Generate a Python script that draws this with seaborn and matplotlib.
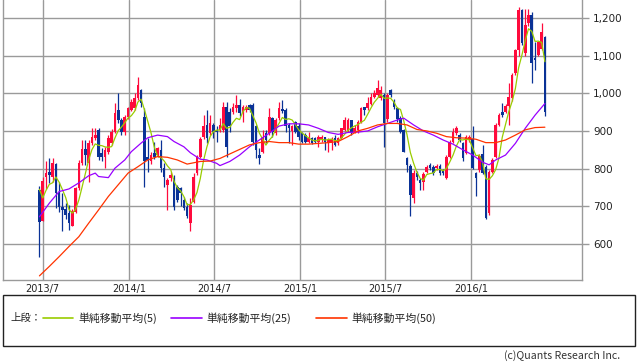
import numpy as np
import pandas as pd
import matplotlib
matplotlib.use('Agg')
from matplotlib import pyplot as plt
from matplotlib.lines import Line2D
from matplotlib.patches import Rectangle
import seaborn as sns

# weekly candles, first week 2013-06-24
start = pd.Timestamp('2013-06-24')
opens = [743, 662, 777, 792, 779, 812, 736, 699, 692, 681, 648, 686, 748, 814, 851, 814, 867, 880, 903, 841,
         832, 845, 867, 898, 956, 929, 898, 938, 956, 960, 987, 1009, 938, 832, 819, 841, 836, 850, 801, 757,
         774, 774, 752, 748, 717, 699, 655, 712, 788, 832, 883, 916, 894, 916, 903, 903, 903, 965, 951, 951,
         960, 969, 947, 956, 969, 969, 912, 836, 845, 894, 894, 934, 894, 934, 958, 956, 916, 901, 925, 912,
         894, 889, 872, 882, 880, 872, 876, 883, 867, 867, 881, 867, 881, 903, 903, 929, 898, 903, 925, 965,
         960, 972, 991, 996, 987, 996, 931, 1009, 980, 960, 934, 903, 827, 808, 721, 789, 770, 765, 792, 810,
         805, 801, 807, 796, 774, 832, 872, 894, 889, 869, 841, 876, 878, 788, 796, 839, 805, 681, 792, 832,
         916, 951, 951, 966, 987, 1053, 1115, 1221, 1106, 1186, 1208, 1093, 1102, 1119, 1149]
highs = [754, 778, 820, 827, 827, 815, 765, 735, 708, 703, 692, 752, 823, 876, 876, 876, 907, 907, 907, 854,
         858, 890, 905, 973, 1000, 935, 942, 965, 985, 1000, 1044, 1012, 962, 881, 845, 870, 858, 876, 814, 775,
         790, 783, 757, 752, 725, 708, 721, 788, 836, 885, 942, 956, 942, 920, 912, 934, 978, 978, 960, 973,
         996, 985, 969, 970, 972, 973, 916, 854, 903, 903, 960, 938, 934, 978, 981, 960, 920, 916, 927, 920,
         898, 894, 898, 885, 883, 889, 888, 885, 881, 883, 889, 885, 907, 938, 934, 929, 916, 929, 965, 965,
         991, 1000, 1009, 1035, 1020, 1000, 1000, 1011, 985, 965, 940, 905, 830, 812, 795, 793, 775, 790, 810, 815,
         810, 812, 812, 800, 836, 876, 909, 913, 895, 872, 889, 889, 913, 790, 840, 863, 810, 795, 828, 920,
         948, 973, 972, 1027, 1055, 1118, 1230, 1225, 1225, 1225, 1215, 1137, 1140, 1186, 1152]
lows = [565, 660, 745, 761, 765, 695, 686, 633, 665, 637, 647, 682, 743, 810, 810, 765, 863, 876, 823, 819,
        801, 840, 862, 894, 920, 890, 890, 932, 952, 955, 982, 965, 752, 792, 812, 826, 830, 792, 752, 690,
        768, 690, 710, 700, 690, 668, 633, 708, 783, 829, 878, 867, 890, 881, 872, 898, 898, 832, 898, 945,
        950, 940, 925, 950, 950, 863, 827, 811, 841, 867, 888, 885, 889, 929, 947, 898, 867, 863, 894, 876,
        867, 867, 867, 865, 868, 858, 872, 850, 845, 850, 860, 863, 878, 900, 898, 890, 894, 894, 920, 942,
        955, 969, 987, 991, 982, 858, 925, 990, 958, 925, 895, 843, 790, 673, 708, 770, 743, 743, 788, 795,
        784, 796, 783, 783, 772, 828, 868, 890, 872, 820, 838, 872, 798, 726, 790, 785, 665, 678, 788, 828,
        912, 938, 948, 916, 980, 1048, 1100, 1128, 1100, 1180, 1027, 1062, 1098, 1115, 940]
closes = [659, 768, 788, 783, 814, 736, 699, 690, 677, 655, 688, 748, 814, 851, 836, 867, 885, 889, 832, 832,
          850, 880, 898, 947, 929, 898, 938, 960, 978, 987, 1022, 975, 819, 823, 836, 832, 854, 801, 779, 770,
          783, 699, 717, 735, 695, 673, 704, 779, 832, 879, 914, 881, 920, 898, 898, 916, 965, 858, 912, 965,
          969, 947, 965, 965, 956, 872, 850, 829, 885, 876, 938, 898, 929, 960, 954, 912, 907, 912, 898, 885,
          872, 872, 882, 869, 872, 883, 883, 872, 876, 878, 863, 881, 907, 929, 929, 894, 907, 925, 960, 956,
          973, 991, 1000, 1013, 1009, 920, 996, 996, 963, 932, 898, 845, 810, 730, 788, 779, 763, 786, 805, 801,
          788, 807, 788, 788, 832, 872, 898, 907, 876, 827, 885, 885, 801, 774, 834, 788, 668, 792, 823, 916,
          942, 942, 966, 991, 1049, 1115, 1221, 1133, 1181, 1208, 1080, 1088, 1137, 1164, 951]

# first weeks of the 5-week average (earlier closes are off the chart)
ma5_head = [745, 722, 742, 758]

# moving averages (week index, value)
ma25_weeks = [0, 3, 6, 9, 12, 15, 17, 18, 21, 23, 26, 28, 31, 33, 36, 39, 41, 44, 46, 49,
              51, 54, 55, 58, 61, 64, 67, 70, 73, 76, 79, 82, 85, 88, 91, 94, 97, 100, 103, 106,
              109, 111, 114, 117, 120, 123, 126, 129, 132, 135, 137, 139, 142, 145, 148, 151, 154]
ma25_vals = [672, 708, 739, 746, 762, 781, 788, 779, 776, 801, 823, 845, 868, 882, 889, 885, 872, 858, 842, 825,
             823, 814, 808, 819, 836, 858, 876, 894, 913, 919, 919, 916, 907, 896, 891, 896, 897, 900, 911, 920,
             929, 934, 916, 900, 889, 876, 865, 850, 836, 817, 810, 823, 836, 867, 907, 942, 973]
ma50_weeks = [0, 3, 6, 9, 12, 15, 18, 21, 24, 27, 30, 33, 36, 39, 42, 45, 49, 52, 55, 58,
              61, 64, 67, 70, 73, 76, 79, 82, 85, 88, 91, 94, 97, 100, 103, 106, 109, 112, 115, 118,
              121, 124, 127, 130, 133, 136, 139, 142, 145, 148, 151, 154]
ma50_vals = [515, 540, 566, 593, 619, 655, 690, 726, 757, 788, 805, 823, 832, 830, 823, 812, 819, 820, 827, 839,
             851, 863, 869, 872, 869, 869, 865, 865, 867, 869, 872, 885, 900, 907, 916, 920, 920, 916, 904, 900,
             894, 885, 882, 881, 878, 869, 869, 876, 889, 903, 909, 910]

month_ticks = ['2013-07-01', '2014-01-01', '2014-07-01', '2015-01-01', '2015-07-01', '2016-01-01']
month_labels = ['2013/7', '2014/1', '2014/7', '2015/1', '2015/7', '2016/1']
y_ticks = [600, 700, 800, 900, 1000, 1100, 1200]

UP, DOWN = '#ff0a3c', '#0a3296'
C5, C25, C50 = '#99cc00', '#9900ff', '#ff3300'
GRID = '#9a9a9a'

df = pd.DataFrame({'open': opens, 'high': highs, 'low': lows, 'close': closes})
df['week'] = np.arange(len(df))
df['ma5'] = df['close'].rolling(5, min_periods=1).mean()
df.loc[:len(ma5_head) - 1, 'ma5'] = ma5_head
df['up'] = df['close'] >= df['open']
ma25 = pd.DataFrame({'week': ma25_weeks, 'value': ma25_vals})
ma50 = pd.DataFrame({'week': ma50_weeks, 'value': ma50_vals})

sns.set_style('white')
plt.rcParams['font.family'] = ['Noto Sans CJK JP', 'DejaVu Sans']

fig = plt.figure(figsize=(6.38, 3.62), dpi=100)
ax = fig.add_axes([3 / 638, 82 / 362, 579 / 638, 280 / 362])

colors = np.where(df['up'], UP, DOWN)
ax.vlines(df['week'], df['low'], df['high'], colors=colors, linewidth=0.9, zorder=3)
body = (df['close'] - df['open']).abs().clip(lower=2)
bottom = df[['open', 'close']].min(axis=1)
ax.bar(df['week'], body, bottom=bottom, width=0.8, color=colors, linewidth=0, zorder=4)

sns.lineplot(data=df, x='week', y='ma5', color=C5, linewidth=0.9, ax=ax, zorder=5)
sns.lineplot(data=ma25, x='week', y='value', color=C25, linewidth=0.9, ax=ax, zorder=5)
sns.lineplot(data=ma50, x='week', y='value', color=C50, linewidth=0.9, ax=ax, zorder=5)

xt = [(pd.Timestamp(d) - start).days / 7 for d in month_ticks]
ax.set_xticks(xt)
ax.set_xticklabels(month_labels, family='DejaVu Sans', fontsize=7, color='#222222')
ax.set_xlim(-11.1, 165.3)
ax.set_ylim(504, 1248)
ax.yaxis.tick_right()
ax.set_yticks(y_ticks)
ax.set_yticklabels([f'{v:,}' for v in y_ticks], family='DejaVu Sans', fontsize=7.5, color='#222222')
ax.tick_params(axis='y', length=5, width=1, color=GRID, pad=3)
ax.tick_params(axis='x', length=0, pad=3)
ax.set_xlabel('')
ax.set_ylabel('')
ax.grid(True, color=GRID, linewidth=1)
ax.set_axisbelow(True)
for side in ['left', 'right', 'bottom']:
    ax.spines[side].set_color(GRID)
    ax.spines[side].set_linewidth(1)
ax.spines['top'].set_visible(False)

# legend box below the chart
fig.patches.append(Rectangle((3 / 638, 1 - 346 / 362), 632 / 638, 51 / 362, transform=fig.transFigure,
                             fill=False, edgecolor='#222222', linewidth=1))
ly = 1 - 318 / 362
fig.text(10 / 638, ly, '上段：', fontsize=7.5, va='center', color='#222222')
items = [(43, 73, 78, C5, '単純移動平均(5)'),
         (171, 202, 206, C25, '単純移動平均(25)'),
         (316, 347, 351, C50, '単純移動平均(50)')]
for x0, x1, xt0, col, label in items:
    fig.add_artist(Line2D([x0 / 638, x1 / 638], [ly, ly], color=col, linewidth=1.2))
    fig.text(xt0 / 638, ly, label, fontsize=7.8, va='center', color='#222222')
fig.text(620 / 638, 1 - 356 / 362, '(c)Quants Research Inc.', fontsize=7.6, ha='right', va='center',
         color='#333333')

fig.savefig('out.png', dpi=100, facecolor='white')
